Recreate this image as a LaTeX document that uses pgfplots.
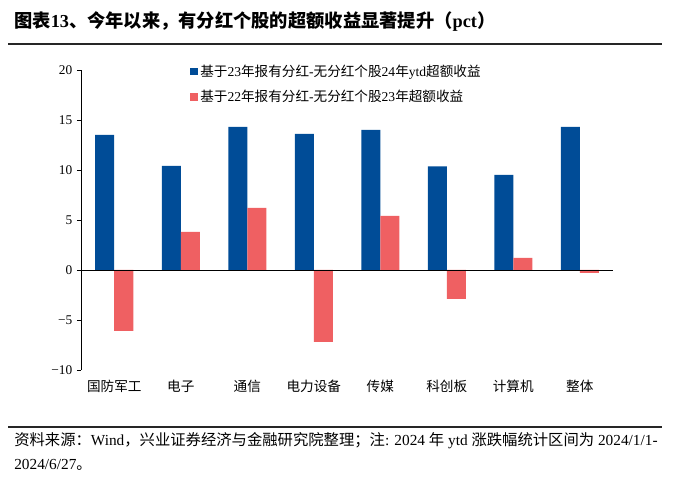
\documentclass[border=0pt]{standalone}
\usepackage{fontspec}
\setmainfont{Liberation Serif}
\newfontfamily\cjk{Noto Sans CJK SC}
\usepackage{pgfplots}
\pgfplotsset{compat=1.18}
\definecolor{cblue}{RGB}{0,76,151}
\definecolor{cred}{RGB}{239,96,98}
\newcommand\zh[1]{{\cjk #1}}
\begin{document}
\begin{tikzpicture}[x=0.75pt,y=0.75pt]
\path[use as bounding box] (0,0) rectangle (700,485);
% title
\node[anchor=west,inner sep=0pt,font=\fontsize{13.7}{15}\selectfont\bfseries] at (14,463) {\zh{图表}13\zh{、今年以来，有分红个股的超额收益显著提升（}pct\zh{）}};
\draw[line width=0.8pt,black!85] (8,441) -- (662,441);
% footer
\draw[line width=0.8pt,black!85] (8,58) -- (662,58);
\node[anchor=west,inner sep=0pt,font=\fontsize{11.5}{13}\selectfont] at (14,44) {\zh{资料来源：}Wind\zh{，兴业证券经济与金融研究院整理；注}: 2024 \zh{年} ytd \zh{涨跌幅统计区间为} 2024/1/1-};
\node[anchor=west,inner sep=0pt,font=\fontsize{11.5}{13}\selectfont] at (14,20) {2024/6/27\zh{。}};
\begin{axis}[
  at={(60.75pt,86.25pt)}, anchor=south west,
  scale only axis, width=399pt, height=225pt,
  ymin=-10, ymax=20, ytick={-10,-5,...,20},
  yticklabels={−10,−5,0,5,10,15,20},
  xmin=-0.5, xmax=7.5, xtick={0,...,7},
  xticklabels={\zh{国防军工},\zh{电子},\zh{通信},\zh{电力设备},\zh{传媒},\zh{科创板},\zh{计算机},\zh{整体}},
  axis y line*=left, axis x line*=bottom,
  x axis line style={draw=none},
  xtick style={draw=none},
  ytick style={black},
  tick align=outside, major tick length=3pt,
  y axis line style={black, line width=0.6pt},
  yticklabel style={font=\fontsize{10}{11}\selectfont},
  xticklabel style={font=\fontsize{10.2}{11}\selectfont, yshift=-1pt},
  ybar=0pt, bar width=14.25pt,
  legend style={at={(0.205,1.027)}, anchor=north west, draw=none, fill=none,
    font=\fontsize{10.2}{12}\selectfont, row sep=5pt, inner sep=0pt},
  legend cell align=left,
  legend image code/.code={\fill[#1] (0pt,-2.8pt) rectangle (5.5pt,2.8pt);},
  clip=false,
]
\addplot[fill=cblue, draw=none] coordinates {(0,13.5) (1,10.4) (2,14.3) (3,13.6) (4,14.0) (5,10.35) (6,9.5) (7,14.3)};
\addplot[fill=cred, draw=none] coordinates {(0,-6.1) (1,3.8) (2,6.2) (3,-7.2) (4,5.4) (5,-2.9) (6,1.2) (7,-0.3)};
\legend{\zh{基于}23\zh{年报有分红}-\zh{无分红个股}24\zh{年}ytd\zh{超额收益},\zh{基于}22\zh{年报有分红}-\zh{无分红个股}23\zh{年超额收益}}
\draw[black, line width=0.6pt] (axis cs:-0.5,0) -- (axis cs:7.5,0);
\end{axis}
\end{tikzpicture}
\end{document}
